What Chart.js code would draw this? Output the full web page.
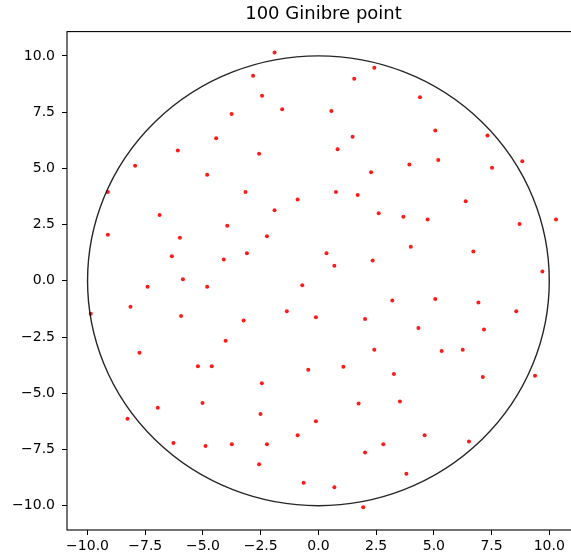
<!DOCTYPE html>
<html>
<head>
<meta charset="utf-8">
<script src="https://cdn.jsdelivr.net/npm/chart.js@4.4.1/dist/chart.umd.min.js"></script>
<style>
  html, body { margin: 0; padding: 0; background: #fff; overflow: hidden; }
  #wrap { width: 590px; height: 556px; }
</style>
</head>
<body>
<div id="wrap"><canvas id="c" width="590" height="556"></canvas></div>
<script>
const chartTitle = "100 Ginibre point";
const xValues = [
  -1.90, -2.83, -2.44, -1.57, -3.76, -4.43, -6.09, -2.57, -7.94, -4.82,
  -9.12, -3.16, -0.90, -1.90, -6.88, -3.95, -9.12, -6.00, -2.23, -6.35,
  -3.10, -4.10, -5.87, -7.40, -4.82, -0.70, -8.14, -9.86, -5.95, -1.37,
  -0.11, -3.24, -4.02, -7.75, -5.22, -4.62, -0.44, -2.45, -6.96, -5.02,
  -8.27, -2.51, -0.11, -0.90, -6.28, -4.89, -3.75, -2.23, -2.57, -0.64,
  2.42, 1.55, 4.40, 0.56, 5.06, 7.32, 1.48, 0.83, 8.83, 5.19,
  3.94, 7.52, 2.28, 0.76, 1.70, 6.38, 2.61, 3.68, 4.73, 8.71,
  10.29, 4.00, 6.71, 0.35, 0.69, 2.35, 9.70, 3.20, 5.06, 6.93,
  2.02, 8.57, 4.33, 7.17, 2.42, 5.34, 6.25, 1.08, 3.27, 7.12,
  9.38, 1.74, 3.53, 4.60, 6.52, 2.81, 2.02, 3.81, 0.69, 1.94
];
const yValues = [
  10.15, 9.12, 8.23, 7.63, 7.42, 6.34, 5.79, 5.65, 5.11, 4.71,
  3.95, 3.95, 3.61, 3.14, 2.93, 2.45, 2.05, 1.91, 1.98, 1.09,
  1.22, 0.95, 0.07, -0.26, -0.26, -0.20, -1.15, -1.47, -1.56, -1.35,
  -1.62, -1.77, -2.66, -3.20, -3.80, -3.80, -3.95, -4.56, -5.64, -5.43,
  -6.13, -5.92, -6.25, -6.87, -7.21, -7.35, -7.27, -7.27, -8.16, -8.98,
  9.47, 8.98, 8.16, 7.55, 6.68, 6.46, 6.40, 5.85, 5.32, 5.37,
  5.17, 5.03, 4.83, 3.95, 3.82, 3.54, 3.00, 2.85, 2.72, 2.53,
  2.72, 1.51, 1.30, 1.22, 0.67, 0.90, 0.41, -0.88, -0.81, -0.96,
  -1.70, -1.35, -2.10, -2.17, -3.07, -3.12, -3.07, -3.82, -4.14, -4.28,
  -4.22, -5.45, -5.37, -6.87, -7.15, -7.27, -7.63, -8.58, -9.18, -10.07
];
const circleCenter = [0, 0];
const circleRadius = 10;
const xTickValues = [-10, -7.5, -5, -2.5, 0, 2.5, 5, 7.5, 10];
const yTickValues = [-10, -7.5, -5, -2.5, 0, 2.5, 5, 7.5, 10];

const points = xValues.map((x, i) => ({ x: x, y: yValues[i] }));
const fmt = v => Number(v).toFixed(1).replace('-', '\u2212');

const frameAndCircle = {
  id: 'frameAndCircle',
  afterDatasetsDraw(chart) {
    const ctx = chart.ctx, xs = chart.scales.x, ys = chart.scales.y;
    const a = chart.chartArea;
    ctx.save();
    ctx.beginPath();
    ctx.rect(a.left, a.top, a.right - a.left, a.bottom - a.top);
    ctx.clip();
    const cx = xs.getPixelForValue(circleCenter[0]);
    const cy = ys.getPixelForValue(circleCenter[1]);
    const rx = Math.abs(xs.getPixelForValue(circleCenter[0] + circleRadius) - cx);
    const ry = Math.abs(ys.getPixelForValue(circleCenter[1] + circleRadius) - cy);
    ctx.beginPath();
    ctx.ellipse(cx, cy, rx, ry, 0, 0, Math.PI * 2);
    ctx.strokeStyle = 'rgba(0,0,0,0.85)';
    ctx.lineWidth = 1.4;
    ctx.stroke();
    ctx.restore();
    ctx.save();
    ctx.strokeStyle = '#000';
    ctx.lineWidth = 1.1;
    ctx.strokeRect(a.left, a.top, a.right - a.left, a.bottom - a.top);
    ctx.restore();
  }
};

new Chart(document.getElementById('c'), {
  type: 'scatter',
  data: {
    datasets: [{
      data: points,
      pointRadius: 2,
      pointHoverRadius: 2,
      pointBorderWidth: 0,
      backgroundColor: 'rgba(255,0,0,0.9)',
      borderColor: 'rgba(255,0,0,0.9)'
    }]
  },
  options: {
    responsive: false,
    animation: false,
    layout: { padding: { left: 0, right: 10, top: 0, bottom: 0 } },
    plugins: {
      legend: { display: false },
      tooltip: { enabled: false },
      title: {
        display: true,
        text: chartTitle,
        fullSize: false,
        color: '#000',
        font: { family: 'DejaVu Sans', size: 18, weight: 'normal' },
        padding: { top: 4, bottom: 6 }
      }
    },
    scales: {
      x: {
        type: 'linear',
        min: -10.89,
        max: 11.33,
        afterBuildTicks: s => { s.ticks = xTickValues.map(v => ({ value: v })); },
        afterFit: s => { s.height = 26; },
        grid: { drawOnChartArea: false, drawTicks: true, tickLength: 5, color: '#000', tickWidth: 1 },
        border: { display: false },
        ticks: {
          color: '#000',
          padding: 3,
          maxRotation: 0,
          autoSkip: false,
          font: { family: 'DejaVu Sans', size: 14 },
          callback: v => fmt(v)
        }
      },
      y: {
        type: 'linear',
        min: -11.08,
        max: 11.08,
        afterBuildTicks: s => { s.ticks = yTickValues.map(v => ({ value: v })); },
        afterFit: s => { s.width = 67; },
        grid: { drawOnChartArea: false, drawTicks: true, tickLength: 5, color: '#000', tickWidth: 1 },
        border: { display: false },
        ticks: {
          color: '#000',
          padding: 7,
          autoSkip: false,
          font: { family: 'DejaVu Sans', size: 14 },
          callback: v => fmt(v)
        }
      }
    }
  },
  plugins: [frameAndCircle]
});
</script>
</body>
</html>
